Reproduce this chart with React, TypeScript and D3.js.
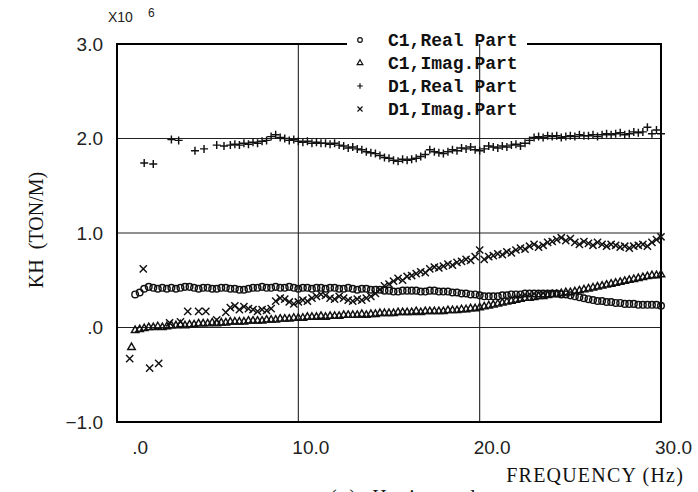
import React from 'react';
import * as d3 from 'd3';

const W = 698;
const H = 492;
const PLOT = { left: 117, right: 661, top: 44, bottom: 422 };

const xTicks = [0, 10, 20, 30];
const xTickLabels = ['.0', '10.0', '20.0', '30.0'];
const yTicks = [-1, 0, 1, 2, 3];
const yTickLabels = ['\u22121.0', '.0', '1.0', '2.0', '3.0'];
const xGrid = [10, 20];
const yGrid = [0, 1, 2];

const legendLabels = ['C1,Real Part', 'C1,Imag.Part', 'D1,Real Part', 'D1,Imag.Part'];

// C1 series: sampled every 0.25 Hz from 1.0 Hz to 30.0 Hz
const c1Freq = d3.range(0, 117).map((i) => 1 + i * 0.25);
const c1Real = [
  0.35, 0.37, 0.41, 0.43,
  0.42, 0.41, 0.42, 0.41,
  0.42, 0.41, 0.42, 0.43,
  0.43, 0.42, 0.41, 0.42,
  0.42, 0.41, 0.41, 0.42,
  0.42, 0.41, 0.41, 0.40,
  0.40, 0.41, 0.42, 0.42,
  0.43, 0.42, 0.42, 0.43,
  0.42, 0.42, 0.43, 0.42,
  0.41, 0.42, 0.42, 0.41,
  0.42, 0.42, 0.41, 0.42,
  0.42, 0.41, 0.41, 0.42,
  0.41, 0.40, 0.41, 0.41,
  0.40, 0.40, 0.40, 0.39,
  0.39, 0.38, 0.38, 0.39,
  0.39, 0.39, 0.39, 0.38,
  0.38, 0.39, 0.39, 0.38,
  0.38, 0.38, 0.37, 0.37,
  0.36, 0.36, 0.35, 0.35,
  0.34, 0.33, 0.33, 0.33,
  0.33, 0.34, 0.34, 0.35,
  0.35, 0.35, 0.36, 0.36,
  0.36, 0.36, 0.36, 0.36,
  0.36, 0.36, 0.35, 0.35,
  0.34, 0.33, 0.32, 0.31,
  0.30, 0.29, 0.28, 0.28,
  0.27, 0.27, 0.26, 0.26,
  0.25, 0.25, 0.25, 0.24,
  0.24, 0.24, 0.24, 0.24,
  0.23,
];
const c1Imag = [
  -0.03, -0.02, -0.01, 0.0,
  0.0, 0.01, 0.0, 0.01,
  0.02, 0.02, 0.03, 0.02,
  0.03, 0.03, 0.04, 0.04,
  0.04, 0.05, 0.04, 0.05,
  0.05, 0.06, 0.06, 0.06,
  0.06, 0.07, 0.07, 0.07,
  0.07, 0.08, 0.08, 0.08,
  0.09, 0.09, 0.09, 0.1,
  0.1, 0.1, 0.11, 0.11,
  0.11, 0.12, 0.11, 0.12,
  0.12, 0.12, 0.13, 0.13,
  0.13, 0.13, 0.14, 0.13,
  0.14, 0.14, 0.15, 0.15,
  0.15, 0.15, 0.16, 0.16,
  0.16, 0.16, 0.17, 0.16,
  0.17, 0.17, 0.17, 0.17,
  0.17, 0.18, 0.18, 0.18,
  0.19, 0.19, 0.2, 0.2,
  0.21, 0.22, 0.23, 0.24,
  0.25, 0.26, 0.27, 0.28,
  0.29, 0.3, 0.31, 0.31,
  0.32, 0.33, 0.33, 0.34,
  0.35, 0.35, 0.36, 0.37,
  0.37, 0.38, 0.39, 0.4,
  0.41, 0.42, 0.43, 0.44,
  0.45, 0.46, 0.47, 0.48,
  0.49, 0.5, 0.51, 0.52,
  0.53, 0.54, 0.55, 0.55,
  0.56,
];
const c1ImagEarlyFreq = [0.8];
const c1ImagEarly = [-0.21];

// D1 real: sparse low-frequency points, then every 0.25 Hz from 6.25 Hz
const d1RealEarlyFreq = [1.5, 2.0, 3.0, 3.4, 4.3, 4.8, 5.5, 5.9];
const d1RealEarly = [1.74, 1.73, 1.99, 1.98, 1.87, 1.89, 1.93, 1.92];
const d1RealFreq = d3.range(0, 96).map((i) => 6.25 + i * 0.25);
const d1Real = [
  1.93, 1.94, 1.93,
  1.95, 1.94, 1.96, 1.95,
  1.97, 1.98, 2.02, 2.04,
  2.01, 2.0, 1.98, 1.99,
  1.97, 1.96, 1.97, 1.95,
  1.96, 1.95, 1.95, 1.94,
  1.95, 1.93, 1.92, 1.9,
  1.91, 1.89, 1.88, 1.86,
  1.85, 1.84, 1.82, 1.8,
  1.79, 1.77, 1.76, 1.78,
  1.77, 1.78, 1.79, 1.81,
  1.83, 1.88, 1.86, 1.85,
  1.84, 1.86, 1.88, 1.87,
  1.9, 1.89, 1.91, 1.88,
  1.87, 1.89, 1.92, 1.91,
  1.9, 1.92, 1.91, 1.93,
  1.94, 1.92, 1.95, 1.98,
  2.01, 2.02, 2.01, 2.03,
  2.02, 2.03, 2.01, 2.02,
  2.03, 2.02, 2.04, 2.03,
  2.03, 2.04, 2.02, 2.04,
  2.05, 2.04, 2.05, 2.06,
  2.04, 2.05, 2.07, 2.06,
  2.07, 2.12, 2.05, 2.09,
  2.05,
];

// D1 imag: sparse low-frequency points, then every 0.25 Hz from 6.0 Hz
const d1ImagEarlyFreq = [0.7, 1.45, 1.8, 2.3, 2.9, 3.5, 3.9, 4.5, 4.9, 5.5];
const d1ImagEarly = [-0.33, 0.62, -0.43, -0.38, 0.05, 0.06, 0.17, 0.17, 0.17, 0.08];
const d1ImagFreq = d3.range(0, 97).map((i) => 6 + i * 0.25);
const d1Imag = [
  0.16, 0.21, 0.23, 0.19,
  0.22, 0.2, 0.19, 0.17,
  0.19, 0.18, 0.2, 0.28,
  0.31, 0.3, 0.27, 0.25,
  0.27, 0.29, 0.28, 0.31,
  0.33, 0.35, 0.34, 0.31,
  0.3, 0.33, 0.31, 0.29,
  0.28, 0.3, 0.29, 0.31,
  0.33, 0.36, 0.4, 0.44,
  0.46, 0.49, 0.52, 0.5,
  0.54, 0.55, 0.57, 0.59,
  0.58, 0.62, 0.64, 0.63,
  0.65, 0.67, 0.66, 0.69,
  0.7, 0.72, 0.71, 0.75,
  0.82, 0.72, 0.75, 0.76,
  0.78, 0.77, 0.8, 0.79,
  0.82, 0.84, 0.83, 0.86,
  0.88, 0.85, 0.87, 0.9,
  0.91, 0.93, 0.95, 0.92,
  0.94, 0.9, 0.88, 0.91,
  0.89, 0.87, 0.9, 0.88,
  0.86, 0.88, 0.87, 0.85,
  0.86, 0.84, 0.86, 0.87,
  0.88, 0.86, 0.9, 0.93,
  0.96,
];

type Kind = 'circle' | 'triangle' | 'plus' | 'cross';

const triPath = d3.symbol(d3.symbolTriangle, 24)() as string;
const triPathSmall = d3.symbol(d3.symbolTriangle, 14)() as string;

function Marker({ kind, x, y, s = 1 }: { kind: Kind; x: number; y: number; s?: number }) {
  const common = { fill: 'none', stroke: '#111', strokeWidth: s < 1 ? 1.2 : 1.45 };
  if (kind === 'circle') return <circle cx={x} cy={y} r={3.3 * s} {...common} />;
  if (kind === 'triangle')
    return <path d={s < 1 ? triPathSmall : triPath} transform={`translate(${x},${y})`} {...common} />;
  if (kind === 'plus') {
    const a = 4 * s;
    return <path d={`M${x - a},${y}H${x + a}M${x},${y - a}V${y + a}`} {...common} />;
  }
  const a = 3.6 * s;
  return <path d={`M${x - a},${y - a}L${x + a},${y + a}M${x - a},${y + a}L${x + a},${y - a}`} {...common} />;
}

export default function App() {
  const x = d3.scaleLinear().domain([0, 30]).range([PLOT.left, PLOT.right]);
  const y = d3.scaleLinear().domain([-1, 3]).range([PLOT.bottom, PLOT.top]);

  const series: { kind: Kind; f: number[]; v: number[] }[] = [
    { kind: 'triangle', f: c1ImagEarlyFreq, v: c1ImagEarly },
    { kind: 'triangle', f: c1Freq, v: c1Imag },
    { kind: 'circle', f: c1Freq, v: c1Real },
    { kind: 'cross', f: d1ImagEarlyFreq, v: d1ImagEarly },
    { kind: 'cross', f: d1ImagFreq, v: d1Imag },
    { kind: 'plus', f: d1RealEarlyFreq, v: d1RealEarly },
    { kind: 'plus', f: d1RealFreq, v: d1Real },
  ];
  const legendKinds: Kind[] = ['circle', 'triangle', 'plus', 'cross'];
  const legendX = 360;
  const legendTextX = 388;
  const legendY0 = 40;
  const legendDy = 23;

  const sans = 'Liberation Sans, Arial, sans-serif';
  const serif = 'Liberation Serif, Times New Roman, serif';
  const mono = 'Liberation Mono, DejaVu Sans Mono, monospace';

  return (
    <svg width={W} height={H} style={{ position: 'absolute', left: 0, top: 0, background: '#fff' }}>
      <rect x={0} y={0} width={W} height={H} fill="#fff" />
      {/* grid */}
      {yGrid.map((v) => (
        <line key={`gy${v}`} x1={PLOT.left} x2={PLOT.right} y1={y(v)} y2={y(v)} stroke="#222" strokeWidth={1.1} />
      ))}
      {xGrid.map((v) => (
        <line key={`gx${v}`} x1={x(v)} x2={x(v)} y1={PLOT.top} y2={PLOT.bottom} stroke="#222" strokeWidth={1.1} />
      ))}
      {/* frame */}
      <line x1={PLOT.left} x2={PLOT.left} y1={PLOT.top} y2={PLOT.bottom} stroke="#000" strokeWidth={2} />
      <line x1={PLOT.right} x2={PLOT.right} y1={PLOT.top} y2={PLOT.bottom} stroke="#000" strokeWidth={2} />
      <line x1={PLOT.left - 1} x2={PLOT.right + 1} y1={PLOT.bottom} y2={PLOT.bottom} stroke="#000" strokeWidth={2} />
      <line x1={PLOT.left - 1} x2={347} y1={PLOT.top} y2={PLOT.top} stroke="#000" strokeWidth={2} />
      <line x1={527} x2={PLOT.right + 1} y1={PLOT.top} y2={PLOT.top} stroke="#000" strokeWidth={2} />

      {/* data */}
      {series.map((s, si) =>
        s.v.map((v, i) => <Marker key={`${si}-${i}`} kind={s.kind} x={x(s.f[i])} y={y(v)} />)
      )}

      {/* y tick labels */}
      {yTicks.map((v, i) => (
        <text key={`yt${v}`} x={103} y={y(v)} dy="0.36em" textAnchor="end" fontFamily={sans} fontSize={19} fill="#222">
          {yTickLabels[i]}
        </text>
      ))}
      {/* x tick labels */}
      {xTicks.map((v, i) => (
        <text key={`xt${v}`} x={x(v) + 31} y={PLOT.bottom + 25} dy="0.36em" textAnchor="end" fontFamily={sans} fontSize={19} fill="#222">
          {xTickLabels[i]}
        </text>
      ))}
      {/* exponent */}
      <text x={108} y={22} fontFamily={sans} fontSize={14} fill="#222">X10</text>
      <text x={148} y={17} fontFamily={sans} fontSize={12} fill="#222">6</text>

      {/* axis titles */}
      <text
        transform={`translate(43,${230}) rotate(-90)`}
        textAnchor="middle"
        fontFamily={serif}
        fontSize={20}
        fill="#111"
        style={{ whiteSpace: 'pre' }}
      >
        {'KH\u00a0\u00a0(TON/M)'}
      </text>
      <text x={684} y={482} textAnchor="end" fontFamily={serif} fontSize={20} letterSpacing={1.2} fill="#111">
        FREQUENCY (Hz)
      </text>
      <text x={330} y={504} fontFamily={serif} fontSize={20} letterSpacing={2} fill="#111">
        {'(a)\u00a0\u00a0Horizontal'}
      </text>

      {/* legend */}
      {legendLabels.map((lab, i) => (
        <g key={lab}>
          <Marker kind={legendKinds[i]} x={legendX} y={legendY0 + i * legendDy} s={0.7} />
          <text
            x={legendTextX}
            y={legendY0 + i * legendDy}
            dy="0.36em"
            fontFamily={mono}
            fontWeight="bold"
            fontSize={18}
            fill="#111"
          >
            {lab}
          </text>
        </g>
      ))}
    </svg>
  );
}
